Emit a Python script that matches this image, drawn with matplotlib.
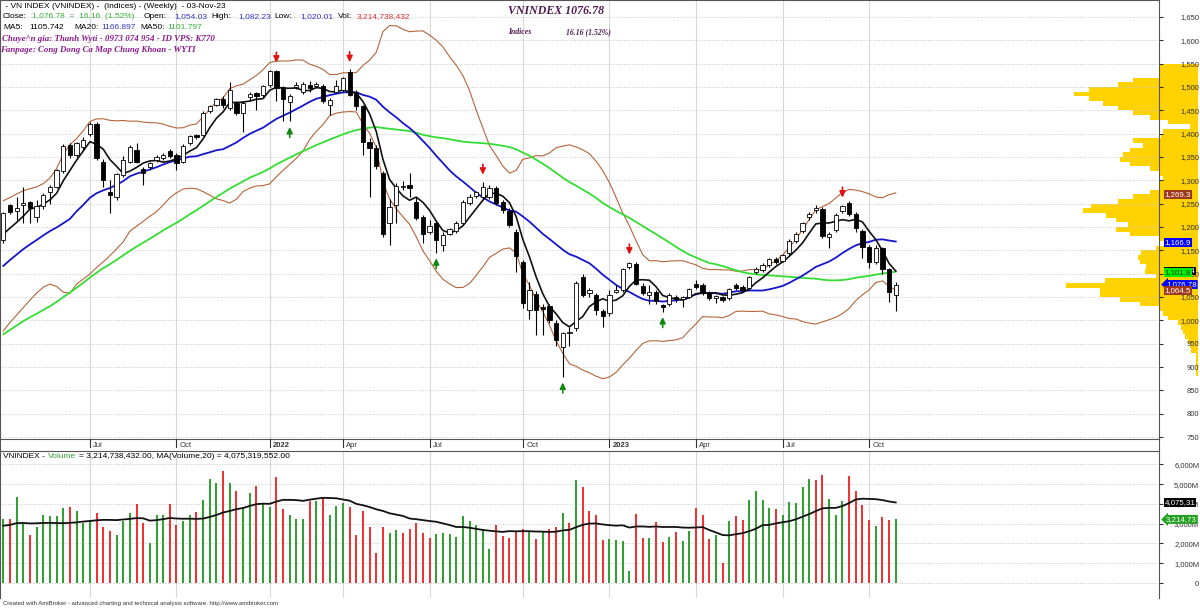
import numpy as np
import pandas as pd
import matplotlib
matplotlib.use("Agg")
import matplotlib.pyplot as plt
from matplotlib.transforms import offset_copy

# weekly bars 02-Apr-21 .. 03-Nov-23 (no bar for the Tet week ending 04-Feb-22)
opens = [1172, 1247, 1235, 1246, 1253, 1222, 1244, 1274, 1286, 1319, 1376, 1354, 1372, 1399, 1420, 1340, 1275, 1265, 1311, 1340,
         1365, 1324, 1329, 1343, 1347, 1363, 1354, 1340, 1379, 1397, 1397, 1449, 1461, 1474, 1454, 1466, 1445, 1479, 1486, 1483,
         1503, 1533, 1499, 1467, 1500, 1490, 1504, 1502, 1502, 1461, 1490, 1494, 1531, 1490, 1458, 1381, 1369, 1315, 1209, 1247,
         1285, 1290, 1254, 1222, 1190, 1209, 1161, 1186, 1192, 1208, 1252, 1266, 1265, 1265, 1283, 1254, 1235, 1190, 1126, 1022,
         1057, 1029, 1031, 994, 942, 972, 983, 1092, 1059, 1054, 1021, 1015, 1061, 1065, 1115, 1121, 1074, 1054, 1061, 1033,
         1036, 1049, 1045, 1051, 1077, 1076, 1058, 1047, 1049, 1047, 1076, 1071, 1069, 1104, 1108, 1119, 1131, 1128, 1144, 1169,
         1192, 1221, 1236, 1238, 1179, 1194, 1235, 1252, 1228, 1192, 1158, 1126, 1154, 1109, 1054.03]
highs = [1233, 1250, 1264, 1286, 1256, 1258, 1272, 1290, 1325, 1378, 1380, 1382, 1392, 1425, 1424, 1345, 1300, 1316, 1352, 1376,
         1379, 1329, 1340, 1355, 1358, 1367, 1358, 1378, 1397, 1400, 1449, 1462, 1477, 1480, 1511, 1470, 1470, 1488, 1490, 1505,
         1536, 1537, 1502, 1484, 1510, 1510, 1512, 1510, 1506, 1476, 1515, 1522, 1538, 1494, 1462, 1390, 1375, 1320, 1259, 1295,
         1298, 1315, 1265, 1225, 1216, 1212, 1190, 1198, 1212, 1258, 1270, 1278, 1297, 1290, 1287, 1258, 1240, 1196, 1130, 1083,
         1062, 1035, 1036, 1000, 975, 985, 1085, 1100, 1070, 1058, 1025, 1066, 1075, 1113, 1126, 1124, 1080, 1075, 1065, 1036,
         1058, 1055, 1052, 1070, 1087, 1080, 1062, 1055, 1053, 1070, 1080, 1075, 1094, 1114, 1122, 1134, 1136, 1143, 1174, 1190,
         1211, 1232, 1248, 1242, 1190, 1230, 1248, 1256, 1232, 1196, 1162, 1162, 1158, 1112, 1082.23]
lows = [1165, 1228, 1214, 1208, 1208, 1211, 1238, 1250, 1283, 1315, 1348, 1350, 1365, 1395, 1344, 1285, 1230, 1258, 1308, 1336,
        1336, 1290, 1322, 1340, 1343, 1348, 1322, 1336, 1376, 1388, 1394, 1445, 1458, 1455, 1450, 1440, 1404, 1470, 1451, 1478,
        1500, 1469, 1426, 1426, 1495, 1485, 1490, 1498, 1466, 1440, 1486, 1490, 1480, 1451, 1354, 1265, 1325, 1178, 1161, 1208,
        1280, 1265, 1215, 1166, 1185, 1145, 1148, 1182, 1188, 1204, 1248, 1262, 1260, 1260, 1248, 1230, 1200, 1104, 1026, 1004,
        969, 969, 995, 945, 879, 945, 978, 1050, 1050, 1012, 986, 1010, 1058, 1060, 1110, 1075, 1055, 1036, 1036, 1019,
        1030, 1040, 1029, 1048, 1068, 1054, 1044, 1037, 1040, 1044, 1066, 1060, 1066, 1100, 1104, 1115, 1120, 1124, 1140, 1165,
        1188, 1215, 1230, 1176, 1154, 1190, 1230, 1224, 1190, 1133, 1113, 1120, 1100, 1040, 1020.01]
closes = [1229, 1233, 1240, 1251, 1240, 1244, 1269, 1286, 1322, 1374, 1354, 1379, 1386, 1420, 1347, 1301, 1268, 1313, 1344, 1372,
          1340, 1315, 1336, 1349, 1354, 1352, 1338, 1374, 1394, 1392, 1445, 1459, 1474, 1462, 1494, 1443, 1465, 1484, 1481, 1501,
          1533, 1497, 1474, 1480, 1504, 1506, 1497, 1506, 1469, 1472, 1502, 1519, 1483, 1458, 1381, 1369, 1331, 1185, 1242, 1288,
          1287, 1284, 1219, 1186, 1202, 1172, 1183, 1195, 1208, 1254, 1265, 1274, 1285, 1283, 1252, 1236, 1204, 1137, 1038, 1065,
          1022, 1024, 1001, 958, 972, 976, 1081, 1054, 1065, 1022, 1009, 1055, 1066, 1111, 1122, 1078, 1058, 1061, 1042, 1028,
          1054, 1045, 1049, 1067, 1071, 1058, 1047, 1052, 1044, 1068, 1069, 1064, 1092, 1111, 1119, 1131, 1124, 1140, 1171, 1186,
          1208, 1228, 1240, 1181, 1186, 1226, 1245, 1228, 1197, 1158, 1126, 1156, 1109, 1060.62, 1076.78]
# weekly volume, millions of shares
volumes = [3218, 3252, 4364, 2982, 2426, 2814, 3454, 3387, 3387, 3791, 3859, 3623, 3050, 3185, 3522, 2814, 2645, 2410, 3117, 3522,
           3993, 3050, 2022, 3454, 3454, 3993, 2915, 3151, 3454, 3589, 4196, 5240, 5072, 5645, 5072, 4634, 3825, 4533, 4903, 3993,
           3859, 5341, 3724, 3454, 3218, 3218, 4128, 4162, 4297, 3421, 3892, 4061, 3825, 2443, 3656, 2848, 1533, 2848, 2544, 2679,
           2511, 2713, 3050, 2544, 2275, 2477, 2511, 2477, 2342, 3387, 3151, 2915, 2713, 1736, 2915, 2376, 2275, 2645, 2713, 2595,
           2241, 2595, 2747, 2814, 3555, 3016, 5207, 4870, 3656, 3437, 2174, 2207, 2174, 2140, 590, 3488, 2275, 2275, 3084, 2073,
           2308, 2578, 2140, 2645, 3791, 3421, 2241, 2410, 1028, 3117, 3387, 3185, 4196, 4634, 4196, 3791, 3758, 3454, 4095, 4027,
           4870, 5240, 5207, 5443, 4229, 3421, 4128, 5409, 4634, 3926, 3185, 2881, 3319, 3185, 3214.74]
vol_colors = ("grggrgggggrgggrrrgggrrgggrrggrgggrgrggrggrrgggrgrgggrrrrrrggrrrrrgggggggggrrrrrgrgrrgrgrrrrggggrrgrrgrggrrrgrgrrggggrggggg"
              "rrgggrrrrgrrg")
# weeks before the first visible bar, used to seed the moving averages
warmup_closes = [770, 766, 768, 782, 830, 863, 864, 878, 863, 865, 866, 856, 868, 850, 835, 815, 838, 855, 867, 880,
                 889, 897, 905, 905, 910, 931, 943, 930, 925, 957, 974, 982, 1007, 1018, 1040, 1055, 1070, 1103,
                 1167, 1193, 1166, 1056, 1111, 1114, 1153, 1176, 1169, 1179, 1184, 1163]
warmup_volumes = [2450, 2600, 2750, 2900, 2700, 3100, 3300, 3600, 3900, 3500, 3200, 2200, 2600, 2800, 2400, 2700, 2600, 2500, 2900]
red_arrows = [41, 52, 72, 94, 126]
green_arrows = [43, 65, 84, 99]
# volume-at-price profile on the right (bin bottoms, relative size)
profile_prices = [880, 890, 900, 910, 920, 930, 940, 950, 960, 970, 980, 990, 1000, 1010, 1020, 1030, 1040, 1050, 1060, 1070,
                  1080, 1090, 1100, 1110, 1120, 1130, 1140, 1150, 1160, 1170, 1180, 1190, 1200, 1210, 1220, 1230, 1240, 1250,
                  1260, 1270, 1280, 1290, 1300, 1310, 1320, 1330, 1340, 1350, 1360, 1370, 1380, 1390, 1400, 1410, 1420, 1430,
                  1440, 1450, 1460, 1470, 1480, 1490, 1500, 1510, 1520, 1530, 1540]
profile_vol = [2, 2, 2, 2, 2, 7, 8, 10, 13, 15, 17, 20, 30, 35, 38, 58, 78, 98, 98, 132,
               93, 42, 53, 52, 58, 60, 57, 42, 33, 38, 68, 82, 70, 82, 92, 115, 107, 80,
               65, 48, 38, 38, 35, 38, 48, 68, 78, 75, 68, 55, 65, 37, 35, 8, 30, 48,
               65, 80, 95, 109, 124, 109, 80, 65, 38, 38, 38]
# last values printed on the right axis
price_tags = [("1,269.3", 1269.3, "#A0391C", "white", False), ("1,166.9", 1166.9, "#0000FF", "white", False),
              ("1,105.74", 1105.74, "#000000", "white", False), ("1,101.8", 1101.8, "#00EE00", "#114411", False),
              ("1,076.78", 1076.78, "#0000FF", "white", True), ("1,064.5", 1064.5, "#A0391C", "white", False)]
vol_tags = [("4,075,31", 4075.3, "#000000", "white", False), ("3,214,73", 3214.7, "#22A022", "white", True)]

W, H = 1200, 609
n = len(closes)
x = np.arange(n)
dates = pd.date_range("2021-04-02", "2023-11-03", freq="W-FRI")
dates = dates[dates != pd.Timestamp("2022-02-04")]

cs = pd.Series(warmup_closes + closes)
k = len(warmup_closes)
ma5 = cs.rolling(5).mean().values[k:]
ma20 = cs.rolling(20).mean().values[k:]
ma50 = cs.rolling(50).mean().values[k:]
sd20 = cs.rolling(20).std(ddof=0).values[k:]
bb_up, bb_dn = ma20 + 2 * sd20, ma20 - 2 * sd20
vs = pd.Series(warmup_volumes + volumes)
vma20 = vs.rolling(20).mean().values[len(warmup_volumes):]

ticks = [i for i in range(1, n) if dates[i].month != dates[i - 1].month and dates[i].month in (1, 4, 7, 10)]
tick_lbls = [str(dates[i].year) if dates[i].month == 1 else dates[i].strftime("%b") for i in ticks]

plt.rcParams["font.family"] = ["Liberation Sans", "DejaVu Sans"]
fig = plt.figure(figsize=(W / 100, H / 100), dpi=100)
fig.patch.set_facecolor("white")

def box(l, t, r, b):
    return [l / W, 1 - b / H, (r - l) / W, (b - t) / H]

xlim = (-0.5, (1159 - 3.3) / 6.66)
ax_p = fig.add_axes(box(0, 0, 1159, 439))
ax_d = fig.add_axes(box(0, 439, 1159, 451))
ax_v = fig.add_axes(box(0, 451, 1159, 598))
ax_prof = fig.add_axes(box(1000, 0, 1198, 439), zorder=-1)

# volume profile behind everything
ax_prof.barh(np.array(profile_prices) + 5, profile_vol, height=10, color="#FFD200", lw=0)
ax_prof.set_xlim(198, 0)
ax_prof.set_ylim(746, 1686)
ax_prof.axis("off")

for ax in (ax_p, ax_d, ax_v):
    ax.set_xlim(*xlim)
    ax.patch.set_alpha(0)
    for s in ax.spines.values():
        s.set_color("#555555")
        s.set_linewidth(0.8)

# price panel
ax_p.set_ylim(746, 1686)
ax_p.set_yticks(range(750, 1651, 50))
ax_p.set_yticklabels([f"{v:,}" for v in range(750, 1651, 50)])
ax_p.yaxis.tick_right()
ax_p.tick_params(axis="y", direction="out", length=3, pad=26, labelsize=5.5, colors="#333333")
for lbl in ax_p.get_yticklabels():
    lbl.set_ha("right")
ax_p.set_xticks([])
ax_p.grid(axis="y", ls=":", color="#C8C8C8", lw=0.7)
for t in ticks:
    ax_p.axvline(t, color="#D8D8D8", lw=0.8, zorder=0)
    ax_v.axvline(t, color="#D8D8D8", lw=0.8, zorder=0)

ax_p.plot(x, bb_up, color="#B5643C", lw=0.8, zorder=2)
ax_p.plot(x, bb_dn, color="#B5643C", lw=0.8, zorder=2)
ax_p.plot(x, ma50, color="#33DD33", lw=1.3, zorder=2)
ax_p.plot(x, ma20, color="#1515CC", lw=1.3, zorder=2)
ax_p.plot(x, ma5, color="#111111", lw=1.2, zorder=3)

o, h, l, c = map(np.array, (opens, highs, lows, closes))
ax_p.vlines(x, l, h, color="black", lw=0.8, zorder=4)
body_lo = np.minimum(o, c)
body_h = np.maximum(np.abs(c - o), 1.2)
ax_p.bar(x, body_h, bottom=body_lo, width=0.64, color=np.where(c >= o, "white", "black"),
         edgecolor="black", lw=0.6, zorder=5)

# signal arrows above highs / below lows
up = offset_copy(ax_p.transData, fig=fig, y=5, units="points")
up2 = offset_copy(ax_p.transData, fig=fig, y=12.5, units="points")
dn = offset_copy(ax_p.transData, fig=fig, y=-4, units="points")
dn2 = offset_copy(ax_p.transData, fig=fig, y=-11.5, units="points")
astyle = "-|>,head_length=0.35,head_width=0.17"
for i in red_arrows:
    ax_p.annotate("", xy=(i, h[i]), xycoords=up, xytext=(i, h[i]), textcoords=up2,
                  arrowprops=dict(arrowstyle=astyle, color="#E01010", lw=1.2, mutation_scale=10,
                                  shrinkA=0, shrinkB=0))
for i in green_arrows:
    ax_p.annotate("", xy=(i, l[i]), xycoords=dn, xytext=(i, l[i]), textcoords=dn2,
                  arrowprops=dict(arrowstyle=astyle, color="#118811", lw=1.2, mutation_scale=10,
                                  shrinkA=0, shrinkB=0))

def tag(ax, s, v, fc, tc, arrow):
    style = "larrow,pad=0.12" if arrow else "square,pad=0.12"
    ax.text(1.006 if arrow else 1.005, v, s, transform=ax.get_yaxis_transform(), ha="left", va="center",
            fontsize=5.7, color=tc, clip_on=False, zorder=10,
            bbox=dict(boxstyle=style, fc=fc, ec="none"))

for s, v, fc, tc, a in price_tags:
    tag(ax_p, s, v, fc, tc, a)

# date strip
ax_d.set_ylim(0, 1)
ax_d.set_xticks([])
ax_d.set_yticks([])
ax_d.spines["top"].set_visible(False)
ax_d.spines["bottom"].set_visible(False)
for t, s in zip(ticks, tick_lbls):
    ax_d.plot([t, t], [0.35, 1], color="#333333", lw=0.8)
    ax_d.text(t + 0.5, 0.42, s, fontsize=5.5, va="center", ha="left", color="#333333",
              fontweight="bold" if s.isdigit() else "normal")

# volume panel
ax_v.set_ylim(-758, 6672)
ax_v.set_yticks(range(0, 6001, 1000))
ax_v.set_yticklabels(["0"] + [f"{v:,}M" for v in range(1000, 6001, 1000)])
ax_v.yaxis.tick_right()
ax_v.tick_params(axis="y", direction="out", length=3, pad=26, labelsize=5.5, colors="#333333")
for lbl in ax_v.get_yticklabels():
    lbl.set_ha("right")
ax_v.set_xticks([])
ax_v.spines["bottom"].set_visible(False)
ax_v.grid(axis="y", ls=":", color="#C8C8C8", lw=0.7)
vcol = ["#33A033" if ch == "g" else "#EE3333" for ch in vol_colors]
ax_v.bar(x, volumes, width=0.3, color=vcol, lw=0, zorder=3)
ax_v.plot(x, vma20, color="#111111", lw=1.3, zorder=4)
for s, v, fc, tc, a in vol_tags:
    tag(ax_v, s, v, fc, tc, a)

# header texts
def txt(px, py, s, **kw):
    fig.text(px / W, 1 - py / H, s, va="center", ha="left", **kw)

hs = dict(fontsize=6)
txt(3, 7, " - VN INDEX (VNINDEX) -  (Indices) - (Weekly)  - 03-Nov-23", color="black", **hs)
txt(3, 17, "Close:", color="black", **hs)
txt(32, 17, "1,076.78  =  16.16  (1.52%)", color="#33B033", **hs)
txt(144, 17, "Open:", color="black", **hs)
txt(174, 17, "1,054.03", color="#3535C8", **hs)
txt(211, 17, "High:", color="black", **hs)
txt(238, 17, "1,082.23", color="#3535C8", **hs)
txt(274, 17, "Low:", color="black", **hs)
txt(300, 17, "1,020.01", color="#3535C8", **hs)
txt(338, 17, "Vol:", color="black", **hs)
txt(357, 17, "3,214,738,432", color="#E03030", **hs)
txt(3, 27.5, "MA5:", color="black", **hs)
txt(29, 27.5, "1105.742", color="black", **hs)
txt(74, 27.5, "MA20:", color="black", **hs)
txt(101, 27.5, "1166.897", color="#3535C8", **hs)
txt(140, 27.5, "MA50:", color="black", **hs)
txt(167, 27.5, "1101.797", color="#33B033", **hs)
ps = dict(fontsize=6.4, color="#8B1A8B", family="Liberation Serif", fontweight="bold", style="italic")
txt(2, 39, "Chuye^n gia: Thanh Wyti - 0973 074 954 - ID VPS: K770", **ps)
txt(0, 49.5, "Fanpage: Cong Dong Ca Map Chung Khoan - WYTI", **ps)
ts = dict(color="#4E1A52", family="Liberation Serif", fontweight="bold", style="italic")
txt(508, 11, "VNINDEX 1076.78", fontsize=8.6, **ts)
txt(508, 32, "Indices", fontsize=5.6, **ts)
txt(566, 32, "16.16 (1.52%)", fontsize=5.6, **ts)

txt(3, 456, "VNINDEX - ", color="black", **hs)
txt(48, 456, "Volume", color="#33A033", **hs)
txt(79, 456, "= 3,214,738,432.00, MA(Volume,20) = 4,075,319,552.00", color="black", **hs)
txt(3, 604, "Created with AmiBroker - advanced charting and technical analysis software. http://www.amibroker.com",
    fontsize=4.3, color="#333333")

fig.savefig("out.png", dpi=100, facecolor="white")
